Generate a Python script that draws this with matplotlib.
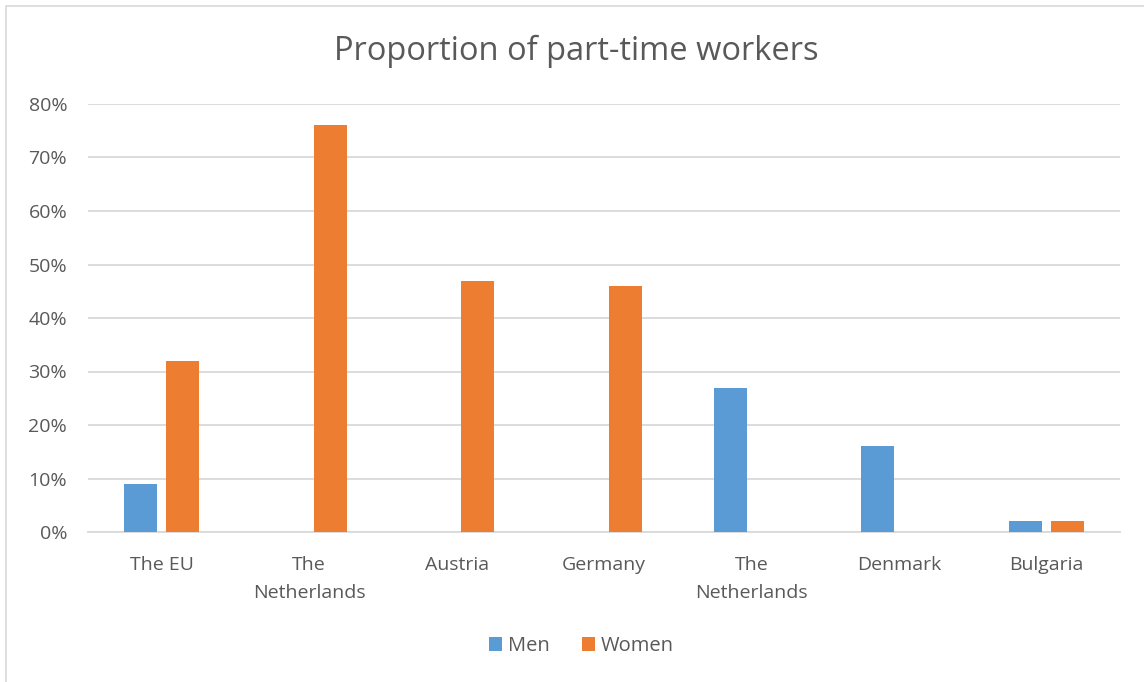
import numpy as np
import matplotlib.pyplot as plt
from matplotlib.patches import Rectangle
from matplotlib.ticker import PercentFormatter

# Data
categories = ["The EU", "The\nNetherlands", "Austria", "Germany", "The\nNetherlands", "Denmark", "Bulgaria"]
men = [9, 0, 0, 0, 27, 16, 2]
women = [32, 76, 47, 46, 0, 0, 2]

MEN_COLOR = "#5b9bd5"
WOMEN_COLOR = "#ed7d31"
TEXT_COLOR = "#595959"
GRID_COLOR = "#d9d9d9"

plt.rcParams['font.family'] = ['Open Sans', 'DejaVu Sans']

fig = plt.figure(figsize=(11.44, 6.82), dpi=100)
ax = fig.add_axes([88 / 1144, 1 - 532 / 682, (1120 - 88) / 1144, (532 - 104) / 682])

x = np.arange(len(categories))
width = 0.224
offset = 0.143

ax.bar(x - offset, np.array(men) / 100, width, color=MEN_COLOR, label="Men", zorder=3)
ax.bar(x + offset, np.array(women) / 100, width, color=WOMEN_COLOR, label="Women", zorder=3)

ax.set_xlim(-0.5, len(categories) - 0.5)
ax.set_ylim(0, 0.8)
ax.set_yticks(np.arange(0, 0.81, 0.1))
ax.yaxis.set_major_formatter(PercentFormatter(1.0, decimals=0))
ax.set_xticks(x)
ax.set_xticklabels(categories, linespacing=1.75)

ax.grid(axis='y', color=GRID_COLOR, linewidth=1.3, zorder=0)
for side in ['left', 'right', 'top']:
    ax.spines[side].set_visible(False)
ax.spines['bottom'].set_color(GRID_COLOR)
ax.spines['bottom'].set_linewidth(1.3)
ax.tick_params(axis='both', length=0, labelsize=14, colors=TEXT_COLOR)
ax.tick_params(axis='y', pad=15)
ax.tick_params(axis='x', pad=17)

fig.text(0.504, 1 - 51 / 682, "Proportion of part-time workers", ha='center', va='center',
         fontsize=23.5, color=TEXT_COLOR)

leg = fig.legend(loc='center', bbox_to_anchor=(0.508, 1 - 646 / 682), ncol=2, frameon=False,
                 fontsize=14.5, handlelength=0.65, handleheight=0.65, handletextpad=0.3,
                 columnspacing=1.6)
for t in leg.get_texts():
    t.set_color(TEXT_COLOR)

# chart frame
fig.patches.append(Rectangle((6 / 1144, -0.1), 1.2, 1 - 6 / 682 + 0.1, transform=fig.transFigure,
                             fill=False, edgecolor=GRID_COLOR, linewidth=1.2))

fig.savefig("out.png", dpi=100)
